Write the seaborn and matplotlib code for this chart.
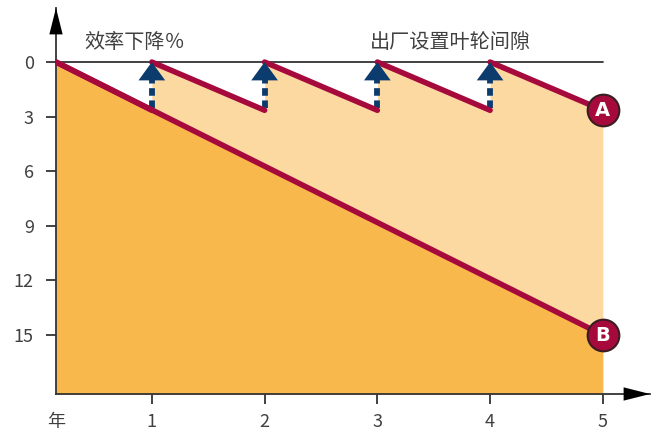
import numpy as np
import pandas as pd
import matplotlib
matplotlib.use("Agg")
import matplotlib.pyplot as plt
import seaborn as sns

# --- data ---
x_origin = 0.15                      # where the axes cross
b_years = [0.15, 5]
b_loss = [0, 15]                     # line B: no adjustment
a_years = [0.15, 1, 1, 2, 2, 3, 3, 4, 4, 5]
a_loss = [0, 2.65, 0, 2.65, 0, 2.65, 0, 2.65, 0, 2.65]   # line A: reset every year
reset_years = [1, 2, 3, 4]
x_ticks = [0.15, 1, 2, 3, 4, 5]
x_labels = ["年", "1", "2", "3", "4", "5"]
y_ticks = [0, 3, 6, 9, 12, 15]

dark_orange = "#F9B84B"
light_orange = "#FDD9A2"
crimson = "#A60A3D"
navy = "#0C3B6D"
axis_col = "#333333"
text_col = "#404040"

sns.set_theme(style="white")
plt.rcParams["font.family"] = ["Noto Sans CJK SC", "DejaVu Sans"]

fig = plt.figure(figsize=(6.57, 4.38), dpi=100)
ax = fig.add_axes([56 / 657, 44 / 438, 594 / 657, 386 / 438])
ax.set_xlim(x_origin, 5.418)
ax.set_ylim(18.24, -2.97)

# fills
y_bottom = ax.get_ylim()[0]
ax.fill_between(b_years, b_loss, y_bottom, color=dark_orange, lw=0, zorder=1)
b_at_a = np.interp(a_years, b_years, b_loss)
ax.fill_between(a_years, a_loss, b_at_a, color=light_orange, lw=0, zorder=1)

# reference line at 0
ax.plot([x_origin, 5], [0, 0], color=axis_col, lw=1.3, zorder=2)

# lines A (one segment per year) and B
df_a = pd.DataFrame({"year": a_years, "loss": a_loss,
                     "seg": np.arange(len(a_years)) // 2})
sns.lineplot(data=df_a, x="year", y="loss", units="seg", sort=False,
             estimator=None, color=crimson, lw=4, ax=ax, zorder=5)
sns.lineplot(x=b_years, y=b_loss, sort=False, estimator=None, color=crimson,
             lw=4, ax=ax, zorder=5)

# dashed reset arrows
for yr in reset_years:
    low = np.interp(yr, b_years, b_loss) if yr == 1 else df_a.loc[df_a.year == yr, "loss"].max()
    ax.plot([yr, yr], [low - 0.1, 0.9], color=navy, lw=4.2,
            linestyle=(0, (1.3, 0.8)), solid_capstyle="butt", zorder=4)
    ax.annotate("", xy=(yr, 0), xytext=(yr, 2.0),
                arrowprops=dict(arrowstyle="-|>,head_width=0.8,head_length=1.1",
                                mutation_scale=12, color=navy, lw=0,
                                shrinkA=0, shrinkB=0), zorder=6)

# end badges
for y_end, lab in [(a_loss[-1], "A"), (b_loss[-1], "B")]:
    ax.scatter([5], [y_end], s=520, color=crimson, edgecolor="#3a1d22",
               linewidth=1.5, zorder=7, clip_on=False)
    ax.text(5, y_end, lab, color="white", fontsize=14, fontweight="bold",
            ha="center", va="center", zorder=8, family="DejaVu Sans")

# annotations
ax.text(0.40, -1.1, "效率下降％", fontsize=14.5, color=text_col, va="center", ha="left")
ax.text(2.93, -1.1, "出厂设置叶轮间隙", fontsize=14.5, color=text_col, va="center", ha="left")

# axes styling
for s in ["top", "right"]:
    ax.spines[s].set_visible(False)
for s in ["left", "bottom"]:
    ax.spines[s].set_color(axis_col)
    ax.spines[s].set_linewidth(1.3)
ax.set_xticks(x_ticks)
ax.set_xticklabels(x_labels)
ax.set_yticks(y_ticks)
ax.tick_params(axis="both", direction="out", length=7, width=1.3, color=axis_col,
               labelsize=13, labelcolor=text_col, left=True, bottom=True)
ax.tick_params(axis="x", pad=7)
ax.tick_params(axis="y", pad=9)
ax.xaxis.get_major_ticks()[0].tick1line.set_visible(False)
ax.set_xlabel("")
ax.set_ylabel("")
ax.grid(False)

# axis arrows
head = "-|>,head_width=0.48,head_length=1.9"
for tip, tail in [((0, 1), (0, 0.85)), ((1, 0), (0.85, 0))]:
    ax.annotate("", xy=tip, xytext=tail, xycoords="axes fraction",
                arrowprops=dict(arrowstyle=head, mutation_scale=10, color="black",
                                lw=0, shrinkA=0, shrinkB=0))

fig.savefig("out.png", dpi=100)
